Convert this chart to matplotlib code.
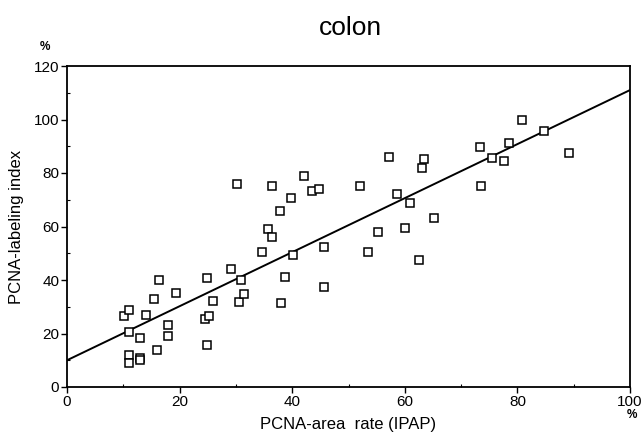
import matplotlib
matplotlib.use("Agg")
import matplotlib.pyplot as plt
from matplotlib.ticker import MultipleLocator

plt.rcParams['font.family'] = ['Liberation Sans', 'DejaVu Sans']

# PCNA-area rate (IPAP), %
x_vals = [10.2, 11.1, 11.0, 13.0, 11.0, 11.0, 13.0, 13.0, 14.1, 15.5, 16.3, 16.0,
          18.0, 18.0, 19.3, 24.9, 24.5, 25.2, 24.9, 26.0, 29.1, 30.9, 30.6, 31.4,
          30.2, 36.5, 42.1, 43.5, 44.7, 39.8, 37.9, 35.7, 36.4, 34.6, 40.2, 45.6,
          38.8, 45.6, 38.0,
          52.1, 57.2, 58.7, 61.0, 63.4, 63.1, 55.2, 60.1, 65.1, 53.5, 62.5,
          73.4, 73.5, 75.4, 77.6, 78.5, 80.9, 84.7, 89.1]
# PCNA-labeling index, %
y_vals = [26.5, 28.7, 20.4, 18.4, 11.8, 9.0, 10.9, 10.0, 27.1, 33.0, 39.9, 13.8,
          23.1, 19.0, 35.0, 40.9, 25.6, 26.5, 15.8, 32.1, 44.1, 40.1, 31.7, 34.7,
          75.9, 75.0, 79.0, 73.4, 73.9, 70.7, 65.7, 58.9, 55.9, 50.4, 49.3, 52.3,
          41.1, 37.5, 31.3,
          75.2, 86.1, 72.2, 68.6, 85.2, 81.7, 57.8, 59.4, 63.0, 50.6, 47.6,
          89.7, 75.2, 85.5, 84.5, 91.3, 99.9, 95.8, 87.5]

# regression line endpoints
fit_x = [0, 100]
fit_y = [10, 111]

x_ticks = [0, 20, 40, 60, 80, 100]
y_ticks = [0, 20, 40, 60, 80, 100, 120]

fig = plt.figure(figsize=(6.42, 4.38), dpi=100)
ax = fig.add_axes([67/642, 1 - 387/438, (630-67)/642, (387-66)/438])

ax.plot(fit_x, fit_y, color='black', lw=1.4, zorder=2)
ax.plot(x_vals, y_vals, linestyle='none', marker='s', markersize=6,
        markerfacecolor='white', markeredgecolor='black', markeredgewidth=1.1, zorder=3)

ax.set_xlim(0, 100)
ax.set_ylim(0, 120)
ax.set_xticks(x_ticks)
ax.set_yticks(y_ticks)
ax.xaxis.set_minor_locator(MultipleLocator(10))
ax.yaxis.set_minor_locator(MultipleLocator(10))
ax.tick_params(which='major', direction='out', length=4, width=1, labelsize=11, pad=1.5)
ax.tick_params(which='minor', direction='in', length=2.5, width=0.8)
for s in ax.spines.values():
    s.set_linewidth(1.3)

ax.set_xlabel('PCNA-area  rate (IPAP)', fontsize=12, labelpad=6)
ax.set_ylabel('PCNA-labeling index', fontsize=12, labelpad=7)
fig.text(350/642, 1 - 28/438, 'colon', fontsize=19, ha='center', va='center')
fig.text(45/642, 1 - 47/438, '%', fontsize=8.5, ha='center', va='center', fontweight='bold')
fig.text(632/642, 1 - 415/438, '%', fontsize=8.5, ha='center', va='center', fontweight='bold')

fig.savefig('out.png', dpi=100)
